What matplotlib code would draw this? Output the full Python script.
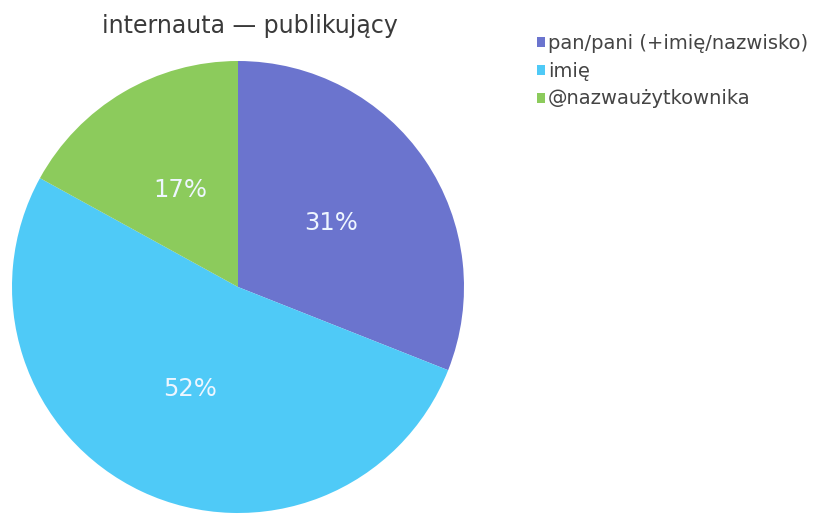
import matplotlib
matplotlib.use("Agg")
import matplotlib.pyplot as plt
from matplotlib.patches import Patch

plt.rcParams['font.family'] = ['DejaVu Sans']

title = "internauta — publikujący"
categories = ["pan/pani (+imię/nazwisko)", "imię", "@nazwaużytkownika"]
values = [31, 52, 17]
colors = ["#6B74CE", "#4FCAF7", "#8CCB5C"]

W, H = 814, 516
fig = plt.figure(figsize=(W / 100, H / 100), dpi=100)
cx, cy, r = 238, 287, 226
ax = fig.add_axes([(cx - r) / W, (H - cy - r) / H, 2 * r / W, 2 * r / H])
wedges, texts, autotexts = ax.pie(
    values, colors=colors, startangle=90, counterclock=False,
    autopct=lambda p: f"{p:.0f}%", pctdistance=0.5, radius=1,
    wedgeprops=dict(linewidth=0),
    textprops=dict(color="#eef6ff", fontsize=17.5),
)
ax.set_xlim(-1, 1)
ax.set_ylim(-1, 1)
ax.set_aspect('equal')
ax.axis('off')

fig.text(250 / W, 1 - 26 / H, title, ha='center', va='center', fontsize=17, color="#3a3a3a")

handles = [Patch(facecolor=c, edgecolor='none') for c in colors]
leg = fig.legend(handles, categories, loc='upper left', bbox_to_anchor=(537 / W, 1 - 34 / H),
                 frameon=False, fontsize=14, handlelength=0.42, handleheight=0.42,
                 handletextpad=0.15, labelspacing=0.45, borderpad=0, borderaxespad=0)
for t in leg.get_texts():
    t.set_color("#444444")

fig.savefig("out.png", dpi=100)
